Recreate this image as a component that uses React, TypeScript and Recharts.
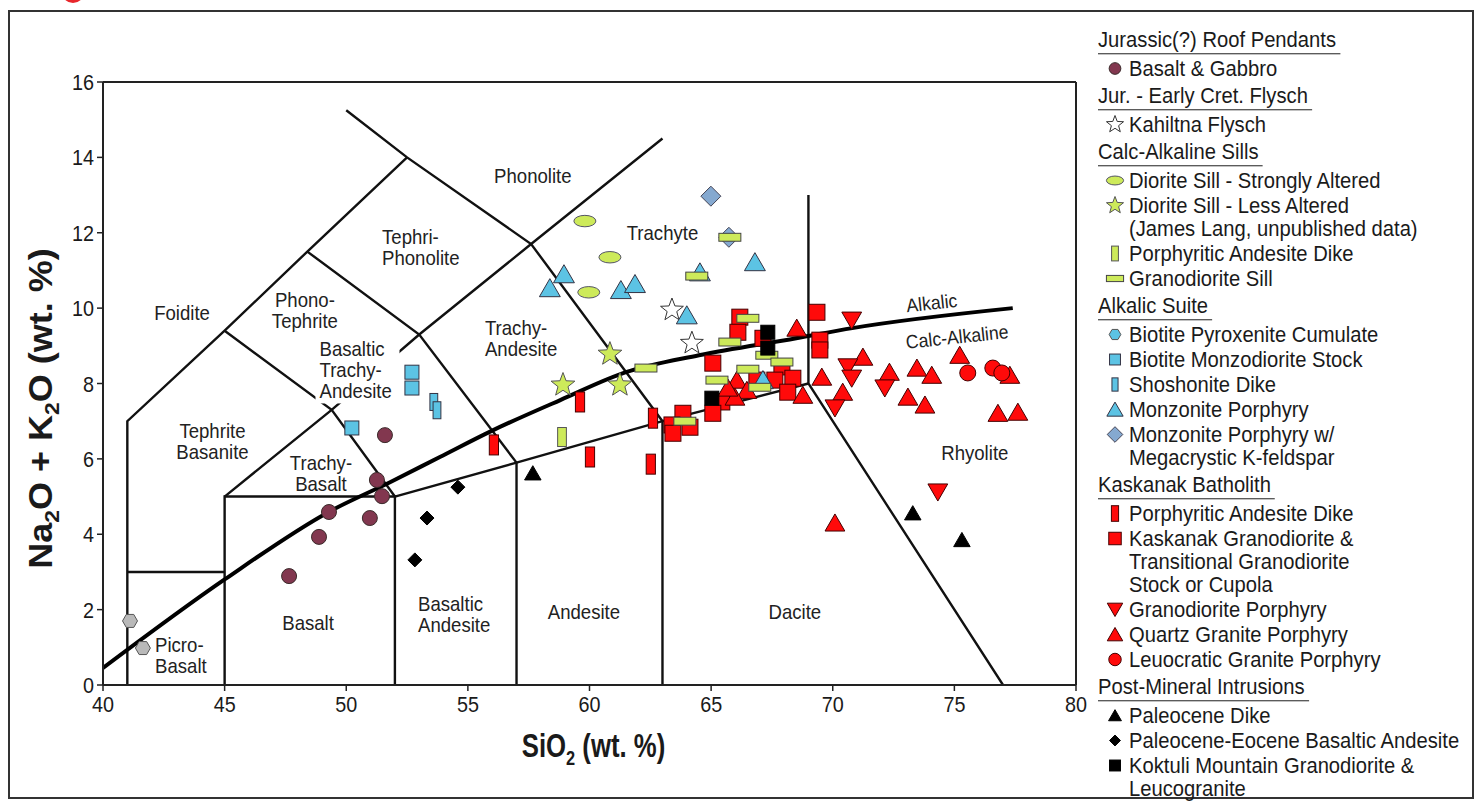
import React from 'react';
import { ComposedChart, Line, Scatter, XAxis, YAxis, ReferenceLine, Label } from 'recharts';

type XY = [number, number];

const FONT = '"Liberation Sans", Arial, Helvetica, sans-serif';

// axis ticks
const xTicks = [40, 45, 50, 55, 60, 65, 70, 75, 80];
const yTicks = [0, 2, 4, 6, 8, 10, 12, 14, 16];

// TAS field boundaries (Le Bas et al.)
const tasBoundaries: XY[][] = [
  [[41, 0], [41, 7], [45, 9.4], [48.4, 11.5], [52.5, 14]],
  [[50.0, 15.25], [52.5, 14], [57.6, 11.7], [63, 7], [63, 0]],
  [[41, 3], [45, 3]],
  [[45, 0], [45, 5], [52, 5], [52, 0]],
  [[45, 5], [49.4, 7.3], [53, 9.3], [57.6, 11.7], [63, 14.5]],
  [[45, 9.4], [49.4, 7.3], [52, 5]],
  [[48.4, 11.5], [53, 9.3], [57, 5.9]],
  [[52, 5], [57, 5.9], [63, 7], [69, 8]],
  [[57, 0], [57, 5.9]],
  [[69, 13], [69, 8], [77, 0]],
];

// alkalic / calc-alkaline divide
const alkalicLine: XY[] = [
  [40, 0.45], [45, 2.8], [49.3, 4.6], [51.8, 5.38], [53.85, 6.05], [56, 6.75],
  [58.8, 7.56], [61.5, 8.3], [64.5, 8.75], [68.5, 9.2], [70.8, 9.47], [77.4, 10.0],
];

// field names
const fieldNames: { x: number; y: number; text: string[] }[] = [
  { x: 43.25, y: 9.87, text: ['Foidite'] },
  { x: 48.3, y: 9.95, text: ['Phono-', 'Tephrite'] },
  { x: 48.9, y: 8.36, text: ['Basaltic', 'Trachy-', 'Andesite'] },
  { x: 44.5, y: 6.45, text: ['Tephrite', 'Basanite'] },
  { x: 48.96, y: 5.62, text: ['Trachy-', 'Basalt'] },
  { x: 48.43, y: 1.64, text: ['Basalt'] },
  { x: 42.14, y: 0.77, text: ['Picro-', 'Basalt'] },
  { x: 52.95, y: 1.88, text: ['Basaltic', 'Andesite'] },
  { x: 59.77, y: 1.94, text: ['Andesite'] },
  { x: 68.44, y: 1.94, text: ['Dacite'] },
  { x: 75.84, y: 6.15, text: ['Rhyolite'] },
  { x: 55.7, y: 9.2, text: ['Trachy-', 'Andesite'] },
  { x: 63.0, y: 12.0, text: ['Trachyte'] },
  { x: 57.67, y: 13.5, text: ['Phonolite'] },
  { x: 51.47, y: 11.62, text: ['Tephri-', 'Phonolite'] },
];
const leftAligned = new Set(['Basaltic|Trachy-|Andesite', 'Picro-|Basalt', 'Basaltic|Andesite', 'Trachy-|Andesite', 'Tephri-|Phonolite']);
const maskedName = 'Basaltic|Trachy-|Andesite';

const curveNames: { x: number; y: number; text: string }[] = [
  { x: 74.1, y: 10.15, text: 'Alkalic' },
  { x: 75.14, y: 9.25, text: 'Calc-Alkaline' },
];

// samples: SiO2, Na2O+K2O
const basaltGabbro: XY[] = [[51.59, 6.63], [51.26, 5.44], [51.47, 5.01], [49.29, 4.59], [50.97, 4.43], [48.88, 3.93], [47.65, 2.89]];
const kahiltna: XY[] = [[63.39, 9.95], [64.21, 9.07]];
const dioriteStrong: XY[] = [[59.81, 12.31], [60.84, 11.35], [59.97, 10.42]];
const dioriteLess: XY[] = [[60.84, 8.78], [58.91, 7.96], [61.25, 7.96]];
const calcAndesiteDike: XY[] = [[58.87, 6.58]];
const granodioriteSill: XY[] = [[65.77, 11.88], [64.41, 10.85], [66.51, 9.73], [65.77, 9.1], [67.29, 8.75], [67.91, 8.57], [62.32, 8.41], [65.24, 8.09], [66.51, 8.38], [67.0, 7.9], [63.92, 7.0]];
const pyroxeniteCumulate: XY[] = [[41.11, 1.7], [41.64, 0.98]];
const monzodioriteStock: XY[] = [[52.7, 8.3], [52.7, 7.88], [50.23, 6.82]];
const shoshoniteDike: XY[] = [[53.6, 7.51], [53.73, 7.29]];
const monzonitePorphyry: XY[] = [[58.95, 10.9], [58.37, 10.53], [61.29, 10.48], [61.87, 10.64], [64.0, 9.81], [66.8, 11.22], [64.54, 10.95], [67.13, 8.09]];
const monzoniteMegacrystic: XY[] = [[64.99, 12.97], [65.73, 11.88]];
const kaskAndesiteDike: XY[] = [[56.07, 6.37], [60.02, 6.05], [62.52, 5.86], [59.61, 7.51], [62.61, 7.08]];
const kaskGranodiorite: XY[] = [[66.18, 9.76], [66.1, 9.36], [67.13, 9.2], [69.35, 9.89], [69.47, 9.15], [69.47, 8.89], [65.07, 8.54], [67.91, 8.44], [67.62, 8.09], [68.36, 8.14], [68.15, 7.77], [66.88, 8.09], [65.44, 7.51], [65.07, 7.21], [63.84, 7.21], [63.39, 6.9], [63.43, 6.68], [64.13, 6.84]];
const granodioritePorphyry: XY[] = [[70.78, 9.68], [70.62, 8.44], [70.78, 8.14], [70.09, 7.35], [72.14, 7.88], [74.32, 5.12]];
const quartzGranite: XY[] = [[68.52, 9.47], [66.06, 8.09], [66.47, 7.82], [65.98, 7.64], [65.69, 7.88], [68.77, 7.69], [69.55, 8.17], [71.24, 8.7], [70.41, 7.77], [72.33, 8.3], [73.46, 8.41], [74.07, 8.22], [73.09, 7.64], [73.79, 7.43], [75.22, 8.75], [77.28, 8.22], [76.79, 7.21], [77.61, 7.24], [70.09, 4.3]];
const leucocraticGranite: XY[] = [[75.55, 8.28], [76.58, 8.41], [76.95, 8.28]];
const paleoceneDike: XY[] = [[57.67, 5.62], [73.29, 4.56], [75.31, 3.85]];
const paleoEoceneAndesite: XY[] = [[54.59, 5.25], [53.32, 4.43], [52.82, 3.32]];
const koktuli: XY[] = [[67.33, 9.36], [67.33, 8.94], [65.03, 7.61]];

type ShapeKind = 'circle' | 'hexagon' | 'square' | 'tallRect' | 'bar' | 'triangle' | 'invTriangle' | 'diamond' | 'star' | 'ellipse';

const RED = '#ff0a0a';
const LIME = '#cdea5a';
const CYAN = '#5cc3e4';

const styles: Record<string, { shape: ShapeKind; size: number; fill: string; stroke: string }> = {
  basalt: { shape: 'circle', size: 15, fill: '#82374f', stroke: '#3a2a2a' },
  kahiltna: { shape: 'star', size: 24, fill: '#ffffff', stroke: '#333' },
  dioriteStrong: { shape: 'ellipse', size: 22, fill: LIME, stroke: '#556' },
  dioriteLess: { shape: 'star', size: 25, fill: LIME, stroke: '#555' },
  calcDike: { shape: 'tallRect', size: 19, fill: LIME, stroke: '#555' },
  granSill: { shape: 'bar', size: 22, fill: LIME, stroke: '#444' },
  pyroxenite: { shape: 'hexagon', size: 15, fill: '#b9b9b9', stroke: '#555' },
  monzodiorite: { shape: 'square', size: 14, fill: CYAN, stroke: '#334' },
  shoshonite: { shape: 'tallRect', size: 17, fill: CYAN, stroke: '#334' },
  monzonite: { shape: 'triangle', size: 19, fill: CYAN, stroke: '#334' },
  megacrystic: { shape: 'diamond', size: 20, fill: '#85a9d0', stroke: '#445' },
  kaskDike: { shape: 'tallRect', size: 20, fill: RED, stroke: '#400' },
  kaskGran: { shape: 'square', size: 16, fill: RED, stroke: '#400' },
  granPorph: { shape: 'invTriangle', size: 18, fill: RED, stroke: '#400' },
  quartzGran: { shape: 'triangle', size: 18, fill: RED, stroke: '#400' },
  leucoGran: { shape: 'circle', size: 16, fill: RED, stroke: '#400' },
  paleoDike: { shape: 'triangle', size: 15, fill: '#000', stroke: '#000' },
  paleoAndesite: { shape: 'diamond', size: 14, fill: '#000', stroke: '#000' },
  koktuli: { shape: 'square', size: 14, fill: '#000', stroke: '#000' },
};

const seriesOrder: { key: string; data: XY[] }[] = [
  { key: 'pyroxenite', data: pyroxeniteCumulate },
  { key: 'basalt', data: basaltGabbro },
  { key: 'monzodiorite', data: monzodioriteStock },
  { key: 'shoshonite', data: shoshoniteDike },
  { key: 'paleoAndesite', data: paleoEoceneAndesite },
  { key: 'paleoDike', data: paleoceneDike },
  { key: 'dioriteStrong', data: dioriteStrong },
  { key: 'dioriteLess', data: dioriteLess },
  { key: 'kahiltna', data: kahiltna },
  { key: 'calcDike', data: calcAndesiteDike },
  { key: 'kaskDike', data: kaskAndesiteDike },
  { key: 'kaskGran', data: kaskGranodiorite },
  { key: 'quartzGran', data: quartzGranite },
  { key: 'granPorph', data: granodioritePorphyry },
  { key: 'leucoGran', data: leucocraticGranite },
  { key: 'monzonite', data: monzonitePorphyry },
  { key: 'megacrystic', data: monzoniteMegacrystic },
  { key: 'granSill', data: granodioriteSill },
  { key: 'koktuli', data: koktuli },
];

type LegendRow = { h?: string; s?: string; t?: string; c?: string; fill?: string };
const legendRows: LegendRow[] = [
  { h: 'Jurassic(?) Roof Pendants' },
  { s: 'basalt', t: 'Basalt & Gabbro' },
  { h: 'Jur. - Early Cret. Flysch' },
  { s: 'kahiltna', t: 'Kahiltna Flysch' },
  { h: 'Calc-Alkaline Sills' },
  { s: 'dioriteStrong', t: 'Diorite Sill - Strongly Altered' },
  { s: 'dioriteLess', t: 'Diorite Sill - Less Altered' },
  { c: '(James Lang, unpublished data)' },
  { s: 'calcDike', t: 'Porphyritic Andesite Dike' },
  { s: 'granSill', t: 'Granodiorite Sill' },
  { h: 'Alkalic Suite' },
  { s: 'pyroxenite', t: 'Biotite Pyroxenite Cumulate', fill: CYAN },
  { s: 'monzodiorite', t: 'Biotite Monzodiorite Stock' },
  { s: 'shoshonite', t: 'Shoshonite Dike' },
  { s: 'monzonite', t: 'Monzonite Porphyry' },
  { s: 'megacrystic', t: 'Monzonite Porphyry w/' },
  { c: 'Megacrystic K-feldspar' },
  { h: 'Kaskanak Batholith' },
  { s: 'kaskDike', t: 'Porphyritic Andesite Dike' },
  { s: 'kaskGran', t: 'Kaskanak Granodiorite &' },
  { c: 'Transitional Granodiorite' },
  { c: 'Stock or Cupola' },
  { s: 'granPorph', t: 'Granodiorite Porphyry' },
  { s: 'quartzGran', t: 'Quartz Granite Porphyry' },
  { s: 'leucoGran', t: 'Leuocratic Granite Porphyry' },
  { h: 'Post-Mineral Intrusions' },
  { s: 'paleoDike', t: 'Paleocene Dike' },
  { s: 'paleoAndesite', t: 'Paleocene-Eocene Basaltic Andesite' },
  { s: 'koktuli', t: 'Koktuli Mountain Granodiorite &' },
  { c: 'Leucogranite' },
];

const toPts = (a: XY[]) => a.map(([x, y]) => ({ x, y }));

function marker(kind: ShapeKind, cx: number, cy: number, s: number, fill: string, stroke: string) {
  const common = { fill, stroke, strokeWidth: 1 };
  switch (kind) {
    case 'circle':
      return <circle cx={cx} cy={cy} r={s / 2} {...common} />;
    case 'hexagon': {
      const p = Array.from({ length: 6 }, (_, i) => {
        const a = (Math.PI / 3) * i;
        return `${cx + (s / 2) * Math.cos(a)},${cy + (s / 2) * Math.sin(a)}`;
      }).join(' ');
      return <polygon points={p} {...common} />;
    }
    case 'square':
      return <rect x={cx - s / 2} y={cy - s / 2} width={s} height={s} {...common} />;
    case 'tallRect':
      return <rect x={cx - s * 0.23} y={cy - s / 2} width={s * 0.46} height={s} {...common} />;
    case 'bar':
      return <rect x={cx - s / 2} y={cy - s * 0.18} width={s} height={s * 0.36} {...common} />;
    case 'triangle':
      return <polygon points={`${cx},${cy - s * 0.5} ${cx + s * 0.55},${cy + s * 0.45} ${cx - s * 0.55},${cy + s * 0.45}`} {...common} />;
    case 'invTriangle':
      return <polygon points={`${cx},${cy + s * 0.5} ${cx + s * 0.55},${cy - s * 0.45} ${cx - s * 0.55},${cy - s * 0.45}`} {...common} />;
    case 'diamond':
      return <polygon points={`${cx},${cy - s / 2} ${cx + s / 2},${cy} ${cx},${cy + s / 2} ${cx - s / 2},${cy}`} {...common} />;
    case 'star': {
      const p = Array.from({ length: 10 }, (_, i) => {
        const r = i % 2 === 0 ? s / 2 : s * 0.21;
        const a = -Math.PI / 2 + (Math.PI / 5) * i;
        return `${cx + r * Math.cos(a)},${cy + r * Math.sin(a)}`;
      }).join(' ');
      return <polygon points={p} {...common} />;
    }
    case 'ellipse':
      return <ellipse cx={cx} cy={cy} rx={s / 2} ry={s * 0.26} {...common} />;
  }
  return null;
}

// squeezed text (the source figure is a little narrow)
const SText: React.FC<{ x: number; y: number; size: number; anchor?: string; sx?: number; bold?: boolean; children: React.ReactNode }> = ({ x, y, size, anchor = 'middle', sx = 0.9, bold, children }) => (
  <text
    transform={`translate(${x},${y}) scale(${sx},1)`}
    textAnchor={anchor as any}
    fontFamily={FONT}
    fontSize={size}
    fontWeight={bold ? 'bold' : 'normal'}
    fill="#1a1a1a"
  >
    {children}
  </text>
);

const FieldName = (props: any) => {
  const { cx, cy, payload } = props;
  const lines: string[] = payload.text;
  const key = lines.join('|');
  const left = leftAligned.has(key);
  const lh = 21;
  const top = cy - (lines.length * lh) / 2;
  return (
    <g>
      {key === maskedName && <rect x={cx - 4} y={top - 2} width={84} height={lines.length * lh + 4} fill="#fff" />}
      {lines.map((l, i) => (
        <text
          key={i}
          transform={`translate(${cx},${cy + (i - (lines.length - 1) / 2) * lh + 7}) scale(0.93,1)`}
          textAnchor={left ? 'start' : 'middle'}
          fontFamily={FONT}
          fontSize={20}
          fill="#222"
        >
          {l}
        </text>
      ))}
    </g>
  );
};

const CurveName = (props: any) => {
  const { cx, cy, payload } = props;
  return (
    <text
      transform={`translate(${cx},${cy + 7}) rotate(-6) scale(0.93,1)`}
      textAnchor="middle"
      fontFamily={FONT}
      fontSize={19}
      fill="#222"
    >
      {payload.text}
    </text>
  );
};

const XTick = (props: any) => (
  <SText x={props.x} y={props.y + 19} size={22}>{props.payload.value}</SText>
);
const YTick = (props: any) => (
  <SText x={props.x} y={props.y + 8} size={22} anchor="end">{props.payload.value}</SText>
);

const Legend: React.FC = () => (
  <div style={{ position: 'absolute', left: 1098, top: 25, fontFamily: FONT, fontSize: 20, color: '#1a1a1a' }}>
    {legendRows.map((r, i) => {
      if (r.h) {
        return (
          <div key={i} style={{ height: 29, marginTop: 2, position: 'relative' }}>
            <span style={{ display: 'inline-block', transform: 'scale(1.01,1.1)', transformOrigin: 'left', whiteSpace: 'nowrap', lineHeight: '25px', borderBottom: '1.5px solid #333', paddingRight: 4 }}>
              {r.h}
            </span>
          </div>
        );
      }
      const st = r.s ? styles[r.s] : null;
      const h = r.c ? 23 : 25;
      return (
        <div key={i} style={{ height: h, position: 'relative', whiteSpace: 'nowrap' }}>
          {st && (
            <svg width={24} height={24} style={{ position: 'absolute', left: 5, top: 0 }}>
              {marker(st.shape, 12, 12.5, Math.min(st.size * 0.78, 18), r.fill || st.fill, st.stroke)}
            </svg>
          )}
          <span style={{ position: 'absolute', left: 31, top: r.c ? -1 : 0, height: h, lineHeight: `${h}px`, display: 'inline-block', transform: 'scale(1.01,1.1)', transformOrigin: 'left' }}>
            {r.t || r.c}
          </span>
        </div>
      );
    })}
  </div>
);

export default function App() {
  return (
    <div style={{ position: 'absolute', left: 0, top: 0, width: 1483, height: 808, background: '#fff', overflow: 'hidden' }}>
      <div style={{ position: 'absolute', left: 62, top: -17, width: 22, height: 20, borderRadius: '50%', background: '#e8262b' }} />
      <div style={{ position: 'absolute', left: 8, top: 10, width: 1466, height: 789, border: '2px solid #333', boxSizing: 'border-box' }} />
      <ComposedChart width={1483} height={808} margin={{ top: 82, right: 407, bottom: 63, left: 43 }}>
        <XAxis
          type="number"
          dataKey="x"
          domain={[40, 80]}
          ticks={xTicks}
          interval={0}
          allowDataOverflow
          tickSize={6}
          tickMargin={2}
          stroke="#222"
          axisLine={{ stroke: '#222', strokeWidth: 2 }}
          tickLine={{ stroke: '#222', strokeWidth: 1.5 }}
          tick={<XTick />}
          height={60}
        >
          <Label
            content={(p: any) => {
              const vb = p.viewBox;
              return (
                <SText x={vb.x + vb.width / 2 + 4} y={vb.y + 72} size={33} bold sx={0.78}>
                  SiO<tspan fontSize={21} dy={8}>2</tspan><tspan dy={-8}> (wt. %)</tspan>
                </SText>
              );
            }}
          />
        </XAxis>
        <YAxis
          type="number"
          dataKey="y"
          domain={[0, 16]}
          ticks={yTicks}
          interval={0}
          allowDataOverflow
          tickSize={6}
          tickMargin={3}
          axisLine={{ stroke: '#222', strokeWidth: 2 }}
          tickLine={{ stroke: '#222', strokeWidth: 1.5 }}
          tick={<YTick />}
          width={60}
        >
          <Label
            content={(p: any) => {
              const vb = p.viewBox;
              const cx = 52;
              const cy = vb.y + vb.height / 2 + 25;
              return (
                <text
                  transform={`translate(${cx},${cy}) rotate(-90) scale(1,0.9)`}
                  textAnchor="middle"
                  fontFamily={FONT}
                  fontSize={36}
                  fontWeight="bold"
                  fill="#1a1a1a"
                >
                  Na<tspan fontSize={23} dy={8}>2</tspan><tspan dy={-8}>O + K</tspan><tspan fontSize={23} dy={8}>2</tspan><tspan dy={-8}>O (wt. %)</tspan>
                </text>
              );
            }}
          />
        </YAxis>
        <ReferenceLine y={16} stroke="#222" strokeWidth={2} />
        <ReferenceLine x={80} stroke="#222" strokeWidth={2} />

        {tasBoundaries.map((seg, i) => (
          <Line
            key={`b${i}`}
            data={toPts(seg)}
            dataKey="y"
            type="linear"
            stroke="#111"
            strokeWidth={2.4}
            dot={false}
            activeDot={false}
            isAnimationActive={false}
          />
        ))}

        <Scatter data={fieldNames} shape={<FieldName />} isAnimationActive={false} />

        <Line
          data={toPts(alkalicLine)}
          dataKey="y"
          type="monotone"
          stroke="#000"
          strokeWidth={4}
          dot={false}
          activeDot={false}
          isAnimationActive={false}
        />
        <Scatter data={curveNames} shape={<CurveName />} isAnimationActive={false} />

        {seriesOrder.map((s) => {
          const st = styles[s.key];
          return (
            <Scatter
              key={s.key}
              data={toPts(s.data)}
              isAnimationActive={false}
              shape={(p: any) => marker(st.shape, p.cx, p.cy, st.size, st.fill, st.stroke)}
            />
          );
        })}
      </ComposedChart>
      <Legend />
    </div>
  );
}
